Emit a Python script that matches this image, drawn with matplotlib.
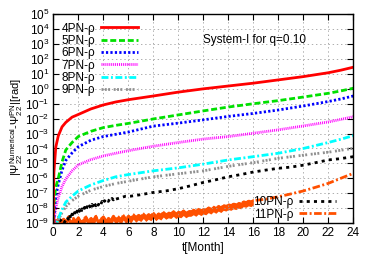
import matplotlib
matplotlib.use('Agg')
import matplotlib.pyplot as plt
import numpy as np
from matplotlib.ticker import LogLocator, NullLocator, MultipleLocator

plt.rcParams['font.family'] = ['Liberation Sans', 'DejaVu Sans']
plt.rcParams['mathtext.fontset'] = 'custom'
plt.rcParams['mathtext.rm'] = 'Liberation Sans'
plt.rcParams['mathtext.it'] = 'Liberation Sans'
plt.rcParams['lines.scale_dashes'] = False

# smooth curves: time in months, values as log10 of phase difference [rad]
t_smooth = [0, 0.02, 0.05, 0.1, 0.2, 0.4, 0.7, 1.0, 1.5, 2, 3, 4, 5, 6, 8, 10,
            12, 14, 16, 18, 20, 22, 23, 24]
pn4 = [-9.5, -7.0, -5.6, -5.0, -3.9, -3.15, -2.55, -2.25, -1.9, -1.72, -1.35,
       -1.08, -0.88, -0.73, -0.48, -0.22, 0.0, 0.19, 0.38, 0.6, 0.82, 1.08,
       1.25, 1.45]
pn5 = [-9.5, -9.0, -7.8, -7.2, -6.6, -6.0, -4.9, -4.1, -3.6, -3.2, -2.85,
       -2.6, -2.45, -2.32, -2.02, -1.75, -1.48, -1.22, -1.0, -0.79, -0.55,
       -0.3, -0.14, 0.04]
pn6 = [-9.5, -9.5, -9.0, -8.0, -7.2, -6.4, -5.45, -4.8, -4.3, -3.88, -3.45,
       -3.2, -3.05, -2.9, -2.5, -2.3, -2.08, -1.85, -1.65, -1.42, -1.15,
       -0.85, -0.68, -0.48]
pn7 = [-9.5, -9.5, -9.5, -8.6, -8.0, -7.3, -6.55, -6.05, -5.5, -5.1, -4.75,
       -4.5, -4.32, -4.15, -3.85, -3.6, -3.37, -3.2, -2.98, -2.75, -2.49,
       -2.22, -2.05, -1.87]
pn8 = [-9.5, -9.5, -9.5, -9.5, -9.2, -8.7, -8.1, -7.6, -7.2, -6.85, -6.45,
       -6.15, -5.9, -5.75, -5.5, -5.3, -5.05, -4.77, -4.55, -4.32, -4.0, -3.6,
       -3.38, -3.14]
pn9 = [-9.5, -9.5, -9.5, -9.5, -9.4, -8.8, -8.3, -7.9, -7.5, -7.2, -6.8,
       -6.55, -6.35, -6.2, -5.9, -5.7, -5.5, -5.2, -4.95, -4.66, -4.45, -4.25,
       -4.12, -3.99]

# 10PN: noisy early part, then smoother
t_pn10 = [0.5, 0.7, 0.9, 1.1, 1.2, 1.3, 1.4, 1.5, 1.6, 1.7, 1.8, 1.9, 2.0,
          2.1, 2.2, 2.3, 2.4, 2.5, 2.6, 2.7, 2.8, 2.9, 3.0, 3.1, 3.2, 3.3, 3.4,
          3.5, 3.6, 3.7, 3.8, 3.9, 4.0, 4.1, 4.2, 4.3, 4.4, 4.5, 4.6, 4.7, 4.8,
          4.9, 5.0, 5.4, 5.8, 6.2,
          7, 8, 9, 10, 11, 12, 13, 14, 15, 16, 17, 18, 19, 20, 21, 22, 23, 24]
pn10 = [-8.9, -8.7, -8.95, -8.6, -8.75, -8.45, -8.7, -8.4, -8.6, -8.3, -8.5,
        -8.2, -8.4, -8.1, -8.3, -8.05, -8.2, -7.95, -8.15, -7.9, -8.05, -7.85,
        -8.0, -7.75, -7.95, -7.7, -7.85, -7.65, -7.8, -7.6, -7.75, -7.55,
        -7.7, -7.5, -7.6, -7.45, -7.55, -7.4, -7.5, -7.35, -7.45, -7.3, -7.4,
        -7.3, -7.2, -7.2,
        -7.1, -6.95, -6.85, -6.7, -6.5, -6.28, -6.1, -5.9, -5.75, -5.58,
        -5.45, -5.33, -5.25, -5.12, -4.95, -4.77, -4.68, -4.55]

# 11PN: noisy band near the floor, then rising
t_pn11 = [0.0, 0.2, 0.4, 0.6, 0.8, 1.0, 1.2, 1.4, 1.6, 1.8, 2.0, 2.2, 2.4, 2.6,
          2.8, 3.0, 3.2, 3.4, 3.6, 3.8, 4.0, 4.2, 4.4, 4.6, 4.8, 5.0, 5.2, 5.4,
          5.6, 5.8, 6.0, 6.2, 6.4, 6.6, 6.8, 7.0, 7.2, 7.4, 7.6, 7.8, 8.0, 8.2,
          8.4, 8.6, 8.8, 9.0, 9.2, 9.4, 9.6, 9.8, 10.0, 10.2, 10.4, 10.6, 10.8,
          11.0, 11.2, 11.4, 11.6, 11.8, 12.0, 12.2, 12.4, 12.6, 12.8, 13.0,
          13.2, 13.4, 13.6, 13.8, 14.0, 14.2, 14.4, 14.6, 14.8, 15.0, 15.2,
          15.4, 15.6, 15.8, 16.0, 17, 18, 19, 20, 21, 22, 23, 24]
pn11 = [-8.7, -8.95, -8.6, -9.0, -8.75, -8.9, -8.6, -8.95, -8.7, -8.9, -8.65,
        -8.95, -8.8, -8.6, -8.9, -8.7, -8.85, -8.55, -8.9, -8.75, -8.6, -8.85,
        -8.7, -8.85, -8.55, -8.8, -8.6, -8.8, -8.5, -8.75, -8.55, -8.7, -8.45,
        -8.65, -8.5, -8.6, -8.4, -8.6, -8.45, -8.55, -8.35, -8.55, -8.4, -8.5,
        -8.3, -8.45, -8.35, -8.4, -8.25, -8.4, -8.3, -8.35, -8.2, -8.35, -8.25,
        -8.25, -8.15, -8.25, -8.1, -8.2, -8.1, -8.15, -8.0, -8.1, -7.95, -8.05,
        -7.9, -8.0, -7.85, -7.9, -7.8, -7.85, -7.75, -7.8, -7.7, -7.75,
        -7.6, -7.65, -7.55, -7.6, -7.5, -7.4, -7.24, -7.05, -6.85, -6.6,
        -6.34, -6.0, -5.67]
n_noisy11 = 81  # points of 11PN drawn as a noisy band

labels = ['4PN-ρ', '5PN-ρ', '6PN-ρ', '7PN-ρ', '8PN-ρ', '9PN-ρ', '10PN-ρ', '11PN-ρ']

fig = plt.figure(figsize=(3.76, 2.63), dpi=100)
ax = fig.add_axes([53.3/376, 1 - 223/263, 300/376, 208.7/263])

def pw(v):
    return 10.0 ** np.asarray(v)

orange = '#ff5000'
ax.fill_between(t_pn11[:n_noisy11], pw(np.array(pn11[:n_noisy11]) - 0.3),
                pw(np.array(pn11[:n_noisy11]) + 0.15), color=orange, lw=0)
h11, = ax.plot(t_pn11, pw(pn11), color=orange, lw=2.0,
               dashes=(5.5, 1.8, 1.4, 1.8))
h10, = ax.plot(t_pn10, pw(pn10), color='black', lw=2.0, dashes=(2.2, 3.0))
h9, = ax.plot(t_smooth, pw(pn9), color='#909090', lw=2.0,
              dashes=(1.4, 1.0, 1.4, 1.0, 1.4, 2.6))
h8, = ax.plot(t_smooth, pw(pn8), color='#00ffff', lw=2.0, dashes=(5.0, 1.8, 1.4, 1.8))
h7, = ax.plot(t_smooth, pw(pn7), color='#ff00ff', lw=2.0, dashes=(0.7, 0.7))
h6, = ax.plot(t_smooth, pw(pn6), color='#0000ff', lw=2.0, dashes=(1.6, 1.6))
h5, = ax.plot(t_smooth, pw(pn5), color='#00e000', lw=2.0, dashes=(4.3, 2.0))
h4, = ax.plot(t_smooth, pw(pn4), color='#ff0000', lw=2.0)

ax.set_yscale('log')
ax.set_xlim(0, 24)
ax.set_ylim(1e-9, 1e5)
ax.xaxis.set_major_locator(MultipleLocator(2))
ax.yaxis.set_major_locator(LogLocator(base=10, numticks=20))
ax.yaxis.set_minor_locator(NullLocator())
ax.tick_params(direction='in', top=True, right=True, length=4, width=0.8,
               labelsize=8.5, pad=3)
ax.grid(True, color='#a0a0a0', lw=0.6, linestyle=(0, (1, 2)))
for s in ax.spines.values():
    s.set_linewidth(1.0)
    s.set_zorder(5)

ax.set_xlabel('t[Month]', fontsize=8.5, labelpad=2)
ax.set_ylabel(r'$|\Psi_{22}^{\rm Numerical}$-$\Psi_{22}^{\rm PN}|$[rad]',
              fontsize=8)
ax.yaxis.set_label_coords(-0.095, 0.46)
ax.text(0.499, 0.877, 'System-I for q=0.10', transform=ax.transAxes,
        fontsize=8.5, va='center', ha='left')

leg1 = ax.legend([h4, h5, h6, h7, h8, h9], labels[:6], loc='upper left',
                 bbox_to_anchor=(0.0, 1.0), frameon=False, markerfirst=False,
                 fontsize=8.5, handlelength=3.1, handletextpad=0.5,
                 labelspacing=0.03, borderaxespad=0.3)
ax.add_artist(leg1)
ax.legend([h10, h11], labels[6:], loc='lower right', bbox_to_anchor=(0.97, -0.028),
          frameon=False, markerfirst=False, fontsize=8.5, handlelength=3.1,
          handletextpad=0.5, labelspacing=0.03, borderaxespad=0.3)

fig.savefig('out.png', dpi=100)
